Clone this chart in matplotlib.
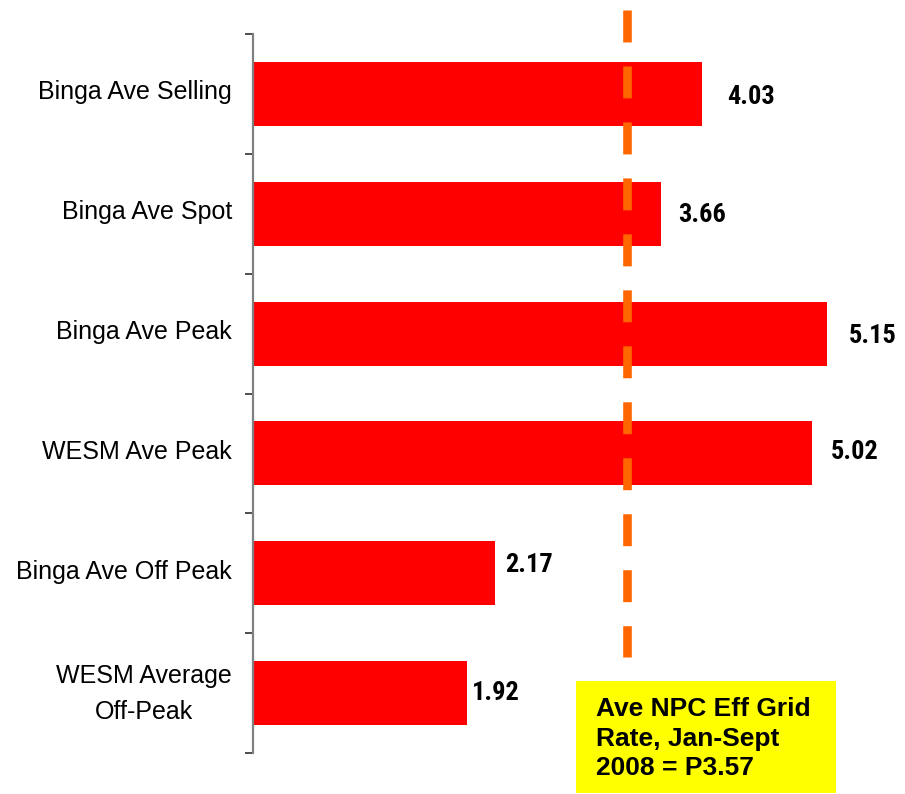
import matplotlib
matplotlib.use("Agg")
import matplotlib.pyplot as plt
from matplotlib.patches import Rectangle
from matplotlib.transforms import ScaledTranslation

categories = ["Binga Ave Selling", "Binga Ave Spot", "Binga Ave Peak",
              "WESM Ave Peak", "Binga Ave Off Peak", "WESM Average\nOff-Peak"]
values = [4.03, 3.66, 5.15, 5.02, 2.17, 1.92]
value_labels = ["4.03", "3.66", "5.15", "5.02", "2.17", "1.92"]
ref_line_value = 3.36
box_text = "Ave NPC Eff Grid\nRate, Jan-Sept\n2008 = P3.57"

# label offsets in pixels (style only)
label_dx = [25, 17, 22, 19, 10, 5]
label_dy = [-3, -1, -2, 1, 8, 0]
label_shift_px = [4, 4, 4, 4, 4, 8]

W, H = 905, 794
fig = plt.figure(figsize=(W / 100, H / 100), dpi=100)
ax_left, ax_right, ax_top, ax_bot = 253, 905, 34, 753
ax = fig.add_axes([ax_left / W, (H - ax_bot) / H, (ax_right - ax_left) / W, (ax_bot - ax_top) / H])

px_per_unit = 111.4
ax.set_xlim(0, (ax_right - ax_left) / px_per_unit)
ax.set_ylim(len(categories) - 0.5, -0.5)

ypos = list(range(len(categories)))
bars = ax.barh(ypos, values, height=0.535, color="#FF0000", zorder=2)

for b, lab, dx, dy in zip(bars, value_labels, label_dx, label_dy):
    ax.annotate(lab, xy=(b.get_width(), b.get_y() + b.get_height() / 2),
                xytext=(dx, dy), textcoords="offset pixels",
                ha="left", va="center", fontsize=19, fontweight="bold",
                family=["Roboto Condensed", "Liberation Sans", "DejaVu Sans"],
                color="black")

# reference dashed line
ln, = ax.plot([ref_line_value, ref_line_value],
              [(ax_bot - 10) / (ax_bot - ax_top), (ax_bot - 657) / (ax_bot - ax_top)],
              transform=ax.get_xaxis_transform(), clip_on=False,
              color="#FF6600", lw=6.2, solid_capstyle="butt", dash_capstyle="butt", zorder=3)
ln.set_dashes((23.0 / 6.2, 17.3 / 6.2))

# axes styling
for s in ["top", "right", "bottom"]:
    ax.spines[s].set_visible(False)
ax.spines["left"].set_color("#808080")
ax.spines["left"].set_linewidth(1.6)
ax.set_xticks([])
ax.set_yticks(ypos)
ax.set_yticklabels(categories, fontsize=18, family=["Liberation Sans", "DejaVu Sans"],
                   multialignment="center", linespacing=1.65)
ax.tick_params(axis="y", which="major", length=0, pad=15)
for t, sp in zip(ax.get_yticklabels(), label_shift_px):
    t.set_transform(t.get_transform() + ScaledTranslation(0, sp / 100, fig.dpi_scale_trans))
ax.set_yticks([y - 0.5 for y in ypos] + [len(categories) - 0.5], minor=True)
ax.tick_params(axis="y", which="minor", length=6, width=1.3, color="#404040", direction="out")

# yellow annotation box
fig.patches.append(Rectangle((576 / W, (H - 793) / H), 260 / W, 112 / H,
                             transform=fig.transFigure, facecolor="#FFFF00",
                             edgecolor="none", zorder=5))
fig.text(596 / W, (H - 697) / H, box_text, ha="left", va="top", fontsize=19,
         fontweight="bold", family=["Liberation Sans", "DejaVu Sans"],
         linespacing=1.3, zorder=6)

fig.savefig("out.png", dpi=100)
